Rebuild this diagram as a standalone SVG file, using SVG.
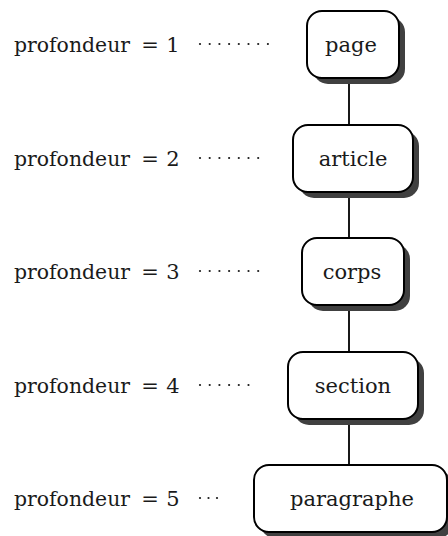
<svg xmlns="http://www.w3.org/2000/svg" width="448" height="536" viewBox="0 0 448 536">
  <style>
    text { font-family: "DejaVu Serif", "Liberation Serif", serif; font-size: 21px; fill: #1a1a1a; }
    .name { text-anchor: middle; }
    .mid { text-anchor: middle; }
    .shadow { fill: #404040; }
    .box { fill: #ffffff; stroke: #000000; stroke-width: 2; }
    .edge { stroke: #000000; stroke-width: 1.8; fill: none; }
    .dot { fill: #1a1a1a; }
  </style>
  <defs>
    <circle id="d" r="1.1" class="dot"/>
  </defs>

  <!-- tree edges -->
  <g id="connectors">
    <line class="edge" x1="349" y1="78" x2="349" y2="125"/>
    <line class="edge" x1="349" y1="192" x2="349" y2="238"/>
    <line class="edge" x1="349" y1="305" x2="349" y2="352"/>
    <line class="edge" x1="349" y1="419" x2="349" y2="465"/>
  </g>

  <!-- depth labels with leader dots -->
  <g id="level-1">
    <text x="14" y="52" textLength="116" lengthAdjust="spacingAndGlyphs">profondeur</text>
    <text class="mid" x="150" y="52">=</text>
    <text class="mid" x="173" y="52">1</text>
    <use href="#d" x="200" y="44"/><use href="#d" x="209.7" y="44"/><use href="#d" x="219.4" y="44"/><use href="#d" x="229.1" y="44"/>
    <use href="#d" x="238.8" y="44"/><use href="#d" x="248.5" y="44"/><use href="#d" x="258.2" y="44"/><use href="#d" x="267.9" y="44"/>
  </g>
  <g id="level-2">
    <text x="14" y="166" textLength="116" lengthAdjust="spacingAndGlyphs">profondeur</text>
    <text class="mid" x="150" y="166">=</text>
    <text class="mid" x="173" y="166">2</text>
    <use href="#d" x="200" y="158"/><use href="#d" x="209.7" y="158"/><use href="#d" x="219.4" y="158"/><use href="#d" x="229.1" y="158"/>
    <use href="#d" x="238.8" y="158"/><use href="#d" x="248.5" y="158"/><use href="#d" x="258.2" y="158"/>
  </g>
  <g id="level-3">
    <text x="14" y="279" textLength="116" lengthAdjust="spacingAndGlyphs">profondeur</text>
    <text class="mid" x="150" y="279">=</text>
    <text class="mid" x="173" y="279">3</text>
    <use href="#d" x="200" y="271"/><use href="#d" x="209.7" y="271"/><use href="#d" x="219.4" y="271"/><use href="#d" x="229.1" y="271"/>
    <use href="#d" x="238.8" y="271"/><use href="#d" x="248.5" y="271"/><use href="#d" x="258.2" y="271"/>
  </g>
  <g id="level-4">
    <text x="14" y="393" textLength="116" lengthAdjust="spacingAndGlyphs">profondeur</text>
    <text class="mid" x="150" y="393">=</text>
    <text class="mid" x="173" y="393">4</text>
    <use href="#d" x="200" y="385"/><use href="#d" x="209.7" y="385"/><use href="#d" x="219.4" y="385"/><use href="#d" x="229.1" y="385"/>
    <use href="#d" x="238.8" y="385"/><use href="#d" x="248.5" y="385"/>
  </g>
  <g id="level-5">
    <text x="14" y="506" textLength="116" lengthAdjust="spacingAndGlyphs">profondeur</text>
    <text class="mid" x="150" y="506">=</text>
    <text class="mid" x="173" y="506">5</text>
    <use href="#d" x="200" y="498"/><use href="#d" x="208.5" y="498"/><use href="#d" x="217" y="498"/>
  </g>

  <!-- nodes: rounded boxes with drop shadow -->
  <g id="node-page">
    <rect class="shadow" x="313" y="17" width="92" height="67" rx="15"/>
    <rect class="box" x="307" y="11" width="92" height="67" rx="15"/>
    <text class="name" x="351" y="52">page</text>
  </g>
  <g id="node-article">
    <rect class="shadow" x="299" y="131" width="120" height="67" rx="15"/>
    <rect class="box" x="293" y="125" width="120" height="67" rx="15"/>
    <text class="name" x="353" y="166">article</text>
  </g>
  <g id="node-corps">
    <rect class="shadow" x="308" y="244" width="102" height="67" rx="15"/>
    <rect class="box" x="302" y="238" width="102" height="67" rx="15"/>
    <text class="name" x="352" y="279">corps</text>
  </g>
  <g id="node-section">
    <rect class="shadow" x="294" y="358" width="130" height="67" rx="15"/>
    <rect class="box" x="288" y="352" width="130" height="67" rx="15"/>
    <text class="name" x="353" y="393">section</text>
  </g>
  <g id="node-paragraphe">
    <rect class="shadow" x="260" y="471" width="193" height="67" rx="15"/>
    <rect class="box" x="254" y="465" width="193" height="67" rx="15"/>
    <text class="name" x="352" y="506">paragraphe</text>
  </g>
</svg>
